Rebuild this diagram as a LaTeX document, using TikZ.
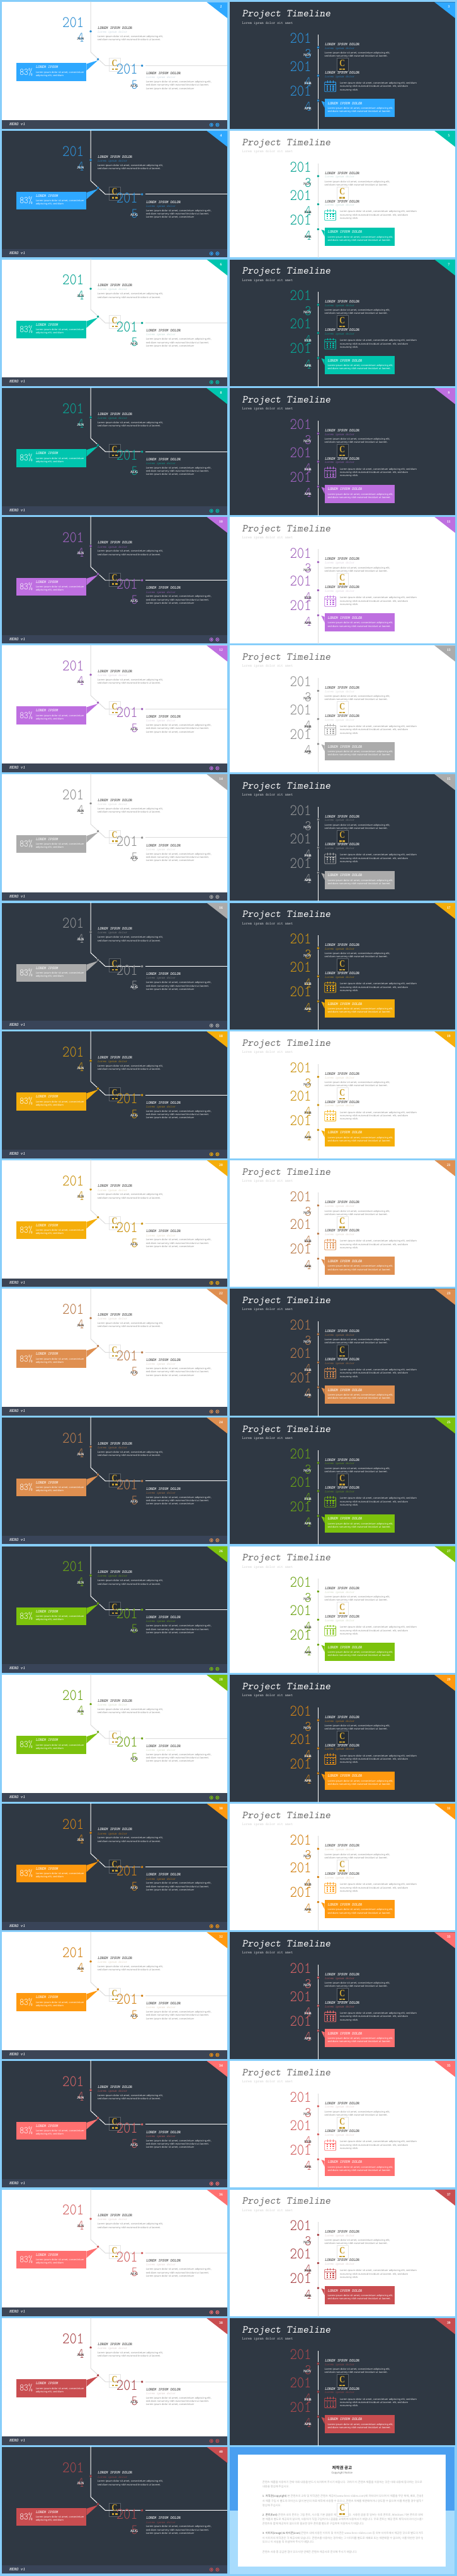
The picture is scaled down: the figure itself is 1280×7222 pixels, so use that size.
\documentclass[tikz,border=0pt]{standalone}
\usepackage{fontspec}
\newfontfamily\bodyf{Noto Sans}
\newfontfamily\krf{Noto Sans CJK KR}
\newfontfamily\serf{Liberation Serif}
\newcommand{\fsz}[1]{\fontsize{#1}{#1}\selectfont}
\definecolor{framec}{HTML}{87CEFA}
\definecolor{darkbg}{HTML}{2F3843}
\definecolor{ftrW}{HTML}{3C4555}
\definecolor{ftrD}{HTML}{394458}
\definecolor{cBlue}{HTML}{2EA8FF}
\definecolor{cTeal}{HTML}{00C5AE}
\definecolor{cPurple}{HTML}{BE6FE0}
\definecolor{cGray}{HTML}{ABABAB}
\definecolor{cAmber}{HTML}{F5AE0A}
\definecolor{cTan}{HTML}{DF8F50}
\definecolor{cGreen}{HTML}{7CC20C}
\definecolor{cOrange}{HTML}{FF990F}
\definecolor{cCoral}{HTML}{FF7070}
\definecolor{cRed}{HTML}{C94D50}
\definecolor{gold}{HTML}{C9A033}
\definecolor{cpBlue}{HTML}{4A9FF0}
\definecolor{cpPale}{HTML}{A8DCFD}
\newcommand{\modeD}{\colorlet{sbg}{darkbg}\colorlet{ftr}{ftrD}\colorlet{ink}{white}\colorlet{body}{white!88!darkbg}\colorlet{tln}{white}\colorlet{subc}{acc!65!darkbg}\colorlet{subt}{white!85!darkbg}\colorlet{ttl}{white}\colorlet{logobg}{black!25!darkbg}\colorlet{logoe}{white!22!darkbg}\colorlet{numc}{acc!80!darkbg}}
\newcommand{\modeW}{\colorlet{sbg}{white}\colorlet{ftr}{ftrW}\colorlet{ink}{black!75}\colorlet{body}{black!45}\colorlet{tln}{black!14}\colorlet{subc}{acc!50!black!25}\colorlet{subt}{black!20}\colorlet{ttl}{black!60}\colorlet{logobg}{white}\colorlet{logoe}{black!10}\colorlet{numc}{acc!82!black}}
\newcommand{\thinnum}[2]{{\ttfamily\fontseries{l}\fsz{#1}\scalebox{1}[1.18]{#2}}}
\newcommand{\ttb}{\ttfamily\fontseries{b}\slshape\fsz{10.8}}
\newcommand{\tts}{\ttfamily\slshape\fsz{9.2}}
\newcommand{\bdy}{\bodyf\fsz{6.9}}
\tikzset{
 tx/.style={inner sep=0pt,anchor=base west},
 txe/.style={inner sep=0pt,anchor=base east},
 yearnum/.style={txe,text=numc},
 mon/.style={txe,text=ink,font=\serf\bfseries\fsz{10}},
 bline/.style={tx,text=body,font=\bdy},
 htitle/.style={tx,text=ink,font=\ttb},
 hsub/.style={tx,text=subc,font=\tts},
 dotm/.style={circle,fill=numc,draw=sbg,line width=1pt,minimum size=7.5pt,inner sep=0pt},
 tline/.style={draw=tln,line width=1.7pt},
 boxw/.style={tx,text=white,font=\bdy},
 boxt/.style={tx,text=white,font=\ttb},
 pgn/.style={inner sep=0pt,text=white,font=\serf\bfseries\fsz{10}},
 navc/.style={circle,draw=acc,line width=1.5pt,fill=ftr,minimum size=9pt,inner sep=0pt},
 krb/.style={tx,text=black!30,font=\krf\fsz{7.6}},
}
\newcommand{\corner}[1]{%
 \fill[acc] (573,0) -- (631,0) -- (631,45) -- cycle;
 \node[pgn] (pg#1) at (613,13.5) {#1};}
\newcommand{\logobox}{\fill[logobg] (299,157) rectangle (331,194); \draw[logoe,line width=.6pt] (299,157) rectangle (331,194);}
\newcommand{\logomark}{%
 \node[inner sep=0pt,text=gold,font=\serf\bfseries\fsz{27}] (logoC) at (315,171) {\scalebox{.8}[1]{C}};
 \fill[gold] (307,186) rectangle (313.5,190);\fill[gold] (316,186) rectangle (323,190);}
\newcommand{\slideL}[4]{%
\begin{scope}[shift={(6,{6+#1*360.74})}]
\colorlet{acc}{#3}\csname mode#2\endcsname
\fill[sbg] (0,0) rectangle (631,355);
\fill[ftr] (0,331) rectangle (631,355);
\corner{#4}
\logobox
\coordinate (tA) at (248,-1.5); \coordinate (tB) at (248,140); \coordinate (tC) at (289,178); \coordinate (tE) at (631,178); \coordinate (tF) at (401,178);
\node[inner sep=0pt] (gap) at (392,178) {};
\draw[tline] (tA) -- (tB) -- (tC) -- (gap);
\draw[tline] (tF) -- (tE);
\logomark
\fill[acc] (40,171) rectangle (236,221);
\fill[acc] (236,173) -- (268.5,163) -- (236,192) -- cycle;
\node[dotm] (d1) at (248,82) {};
\node[dotm] (d2) at (268.5,160) {};
\node[dotm] (d3) at (392,178) {};
\node[yearnum] (yA) at (229,71) {\thinnum{38}{201}};
\node[yearnum] (nA) at (229.5,112) {\thinnum{33}{4}};
\node[mon] (mA) at (229.5,106) {JUN};
\node[yearnum] (yB) at (380,202) {\thinnum{38}{201}};
\node[yearnum] (nB) at (380,244) {\thinnum{33}{5}};
\node[mon] (mB) at (381,239) {AUG};
\node[tx,text=white] (pc) at (49,204) {\thinnum{23}{83\%}};
\node[boxt] (bt) at (94,186) {LOREM IPSUM};
\node[boxw] (b1) at (94,199) {Lorem ipsum dolor sit amet, consectetuer};
\node[boxw] (b2) at (94,208) {adipiscing elit, sed diam};
\node[htitle] (h1) at (267.5,76) {LOREM IPSUM DOLOR};
\node[hsub] (s1) at (267.5,87) {Lorem ipsum dolor};
\node[bline] (l1) at (267,99) {Lorem ipsum dolor sit amet, consectetuer adipiscing elit,};
\node[bline] (l2) at (267,108.5) {sed diam nonummy nibh euismod tincidunt ut laoreet.};
\node[htitle] (h2) at (403,203) {LOREM IPSUM DOLOR};
\node[hsub] (s2) at (403,214) {Lorem ipsum dolor};
\node[bline] (l3) at (402.5,226) {Lorem ipsum dolor sit amet, consectetuer adipiscing elit,};
\node[bline] (l4) at (402.5,235.5) {sed diam nonummy nibh euismod tincidunt ut laoreet.};
\node[bline] (l5) at (402.5,244.5) {Lorem ipsum dolor sit amet, consectetuer};
\node[tx,text=white,font=\ttfamily\fontseries{b}\slshape\fsz{12}] (hero) at (20,346) {HERO v1};
\node[navc] (nl) at (586,344) {}; \node[navc] (nr) at (603,344) {};
\fill[acc] (583.5,344) -- (588,341) -- (588,347) -- cycle;
\fill[acc] (605.5,344) -- (601,341) -- (601,347) -- cycle;
\end{scope}}
\newcommand{\slideR}[4]{%
\begin{scope}[shift={(644,{6+#1*360.74})}]
\colorlet{acc}{#3}\csname mode#2\endcsname
\fill[sbg] (0,0) rectangle (630,355);
\corner{#4}
\node[tx,text=ttl,font=\ttfamily\slshape\fsz{29.5}] (ti) at (34,41) {Project Timeline};
\node[tx,text=subt,font=\ttfamily\fsz{10.4}] (su) at (34,61) {Lorem ipsum dolor sit amet};
\coordinate (vT) at (247,91); \coordinate (vB) at (247,357);
\draw[tline] (vT) -- (vB);
\node[dotm] (d1) at (247,127) {};
\node[dotm] (d2) at (247,206) {};
\node[dotm] (d3) at (247,276) {};
\node[yearnum] (yA) at (228,115) {\thinnum{38}{201}};
\node[yearnum] (nA) at (228,157) {\thinnum{34}{3}};
\node[mon] (mA) at (228.5,152) {NOV};
\node[yearnum] (yB) at (228,194) {\thinnum{38}{201}};
\node[yearnum] (nB) at (228,237) {\thinnum{34}{4}};
\node[mon] (mB) at (228.5,231) {FEB};
\node[yearnum] (yC) at (228,263) {\thinnum{38}{201}};
\node[yearnum] (nC) at (228,306) {\thinnum{34}{4}};
\node[mon] (mC) at (228.5,301) {APR};
\node[htitle] (h1) at (266,122) {LOREM IPSUM DOLOR};
\node[hsub] (s1) at (266,132) {Lorem ipsum dolor};
\node[bline] (l1) at (265,145) {Lorem ipsum dolor sit amet, consectetuer adipiscing elit,};
\node[bline] (l2) at (265,154) {sed diam nonummy nibh euismod tincidunt ut laoreet.};
\logobox\logomark
\node[htitle] (h2) at (266,201) {LOREM IPSUM DOLOR};
\node[hsub] (s2) at (266,211) {Lorem ipsum dolor};
\draw[acc,line width=1.3pt,rounded corners=1pt] (265.5,224) rectangle (296.5,251);
\draw[acc,line width=1.3pt] (265.5,231) -- (296.5,231);
\foreach \px in {273,281,289}{\draw[acc,line width=1.1pt] (\px,220.5) -- (\px,227);}
\foreach \px in {272.5,281,289.5}{\foreach \py in {235,240.5,246}{\fill[acc] (\px-1.9,\py-1.6) rectangle (\px+1.9,\py+1.6);}}
\node[bline] (l3) at (308,229) {Lorem ipsum dolor sit amet, consectetuer adipiscing elit, sed diam};
\node[bline] (l4) at (308,239) {nonummy nibh euismod tincidunt ut laoreet. elit, sed diam};
\node[bline] (l5) at (308,248) {nonummy nibh.};
\fill[acc] (265,271) rectangle (461,322);
\fill[acc] (256,277) -- (265,280) -- (265,296) -- cycle;
\node[boxt] (bt) at (273.6,287) {LOREM IPSUM DOLOR};
\node[boxw] (b1) at (273.6,300) {Lorem ipsum dolor sit amet, consectetuer adipiscing elit,};
\node[boxw] (b2) at (273.6,309) {sed diam nonummy nibh euismod tincidunt ut laoreet.};
\end{scope}}
\begin{document}
\begin{tikzpicture}[x=1pt,y=-1pt]
\useasboundingbox (0,0) rectangle (1280,7222);
\fill[framec] (0,0) rectangle (1280,7222);
\slideL{0}{W}{cBlue}{2}\slideR{0}{D}{cBlue}{3}
\slideL{1}{D}{cBlue}{4}\slideR{1}{W}{cTeal}{5}
\slideL{2}{W}{cTeal}{6}\slideR{2}{D}{cTeal}{7}
\slideL{3}{D}{cTeal}{8}\slideR{3}{D}{cPurple}{9}
\slideL{4}{D}{cPurple}{10}\slideR{4}{W}{cPurple}{11}
\slideL{5}{W}{cPurple}{12}\slideR{5}{W}{cGray}{13}
\slideL{6}{W}{cGray}{14}\slideR{6}{D}{cGray}{15}
\slideL{7}{D}{cGray}{16}\slideR{7}{D}{cAmber}{17}
\slideL{8}{D}{cAmber}{18}\slideR{8}{W}{cAmber}{19}
\slideL{9}{W}{cAmber}{20}\slideR{9}{W}{cTan}{21}
\slideL{10}{W}{cTan}{22}\slideR{10}{D}{cTan}{23}
\slideL{11}{D}{cTan}{24}\slideR{11}{D}{cGreen}{25}
\slideL{12}{D}{cGreen}{26}\slideR{12}{W}{cGreen}{27}
\slideL{13}{W}{cGreen}{28}\slideR{13}{D}{cOrange}{29}
\slideL{14}{D}{cOrange}{30}\slideR{14}{W}{cOrange}{31}
\slideL{15}{W}{cOrange}{32}\slideR{15}{D}{cCoral}{33}
\slideL{16}{D}{cCoral}{34}\slideR{16}{W}{cCoral}{35}
\slideL{17}{W}{cCoral}{36}\slideR{17}{W}{cRed}{37}
\slideL{18}{W}{cRed}{38}\slideR{18}{D}{cRed}{39}
\slideL{19}{D}{cRed}{40}
% copyright panel
\fill[cpPale] (644,7038) rectangle (1273,7216);
\fill[cpBlue] (644,6860) rectangle (1273,7038);
\fill[white] (666.5,6881) rectangle (1249,7195);
\node[inner sep=0pt,text=black!80,font=\krf\bfseries\fsz{11.5}] (crt) at (958,6918) {저작권 공고};
\node[inner sep=0pt,text=black!55,font=\bodyf\fsz{7.5}] (crs) at (958,6934) {Copyright Notice};
\begin{scope}
\clip (735,6940) rectangle (1184,7170);
\node[krb] (k1) at (735,6961) {콘텐츠 제품을 이용하기 전에 아래 내용을 반드시 숙지하여 주시기 바랍니다. 귀하가 이 콘텐츠 제품을 이용하는 것은 아래 내용에 동의하는 것으로 간주합니다.};
\node[krb] (k2) at (735,6975) {내용을 명심해 주십시오.};
\node[krb] (k3) at (735,7000) {\textcolor{black!65}{1. 저작권(copyright)} 본 콘텐츠의 교육 및 저작권은 콘텐츠 제공사(www.hero-slides.com)에 귀속되어 있으며 이 제품을 무단 복제, 배포, 전송할 수 없습니다. 콘텐츠의 일부};
\node[krb] (k4) at (735,7014) {사 제품 구입 시 별도의 라이선스 없이 본인의 자료 제작에 사용할 수 있으나, 콘텐츠 자체를 재판매하거나 양도할 수 없으며 이를 위반할 경우 법적 책임을 질 수 있습니다.};
\node[krb] (k5) at (735,7027) {명심해 주십시오.};
\node[krb] (k6) at (735,7053) {\textcolor{black!65}{2. 폰트(font)} 콘텐츠 내의 폰트는 그림 폰트, 시스템 기본 글꼴로 제작되었습니다. 사용된 글꼴 중 일부는 유료 폰트로, Windows 기본 폰트로 대체될 수 있으며 폰트 파일은};
\node[krb] (k7) at (735,7066) {본 제품과 별도로 제공되지 않으며, 사용자가 직접 구입하거나 글꼴을 교체하여 사용하시기 바랍니다. 무료 폰트는 해당 폰트 제작사의 라이선스를 따릅니다. 폰트를 사용};
\node[krb] (k8) at (735,7078) {콘텐츠와 함께 제공하지 않으므로 필요한 경우 폰트를 별도로 구입하여 이용하시기 바랍니다.};
\node[krb] (k9) at (735,7105) {\textcolor{black!65}{3. 이미지(image) \& 아이콘(icon)} 콘텐츠 내에 사용된 이미지 및 아이콘은 www.hero-slides.com 등 외부 사이트에서 제공된 것으로 별도의 저작권이 있을 수 있으며};
\node[krb] (k10) at (735,7118) {이 이미지의 저작권은 각 제공사에 있습니다. 콘텐츠를 이용하는 경우에는 그 이미지를 별도로 재배포 또는 재판매할 수 없으며, 이를 위반한 경우 법적 책임을 질 수};
\node[krb] (k11) at (735,7130) {있으니 이 사실을 꼭 유념하여 주시기 바랍니다.};
\node[krb] (k12) at (735,7157) {콘텐츠 사용 중 궁금한 점이 있으시면 언제든 콘텐츠 제공사로 문의해 주시기 바랍니다.};
\end{scope}
\begin{scope}[shift={(644,6860)}]
\colorlet{sbg}{white}\colorlet{logobg}{white}\colorlet{logoe}{black!10}
\logobox\logomark
\end{scope}
\end{tikzpicture}
\end{document}
